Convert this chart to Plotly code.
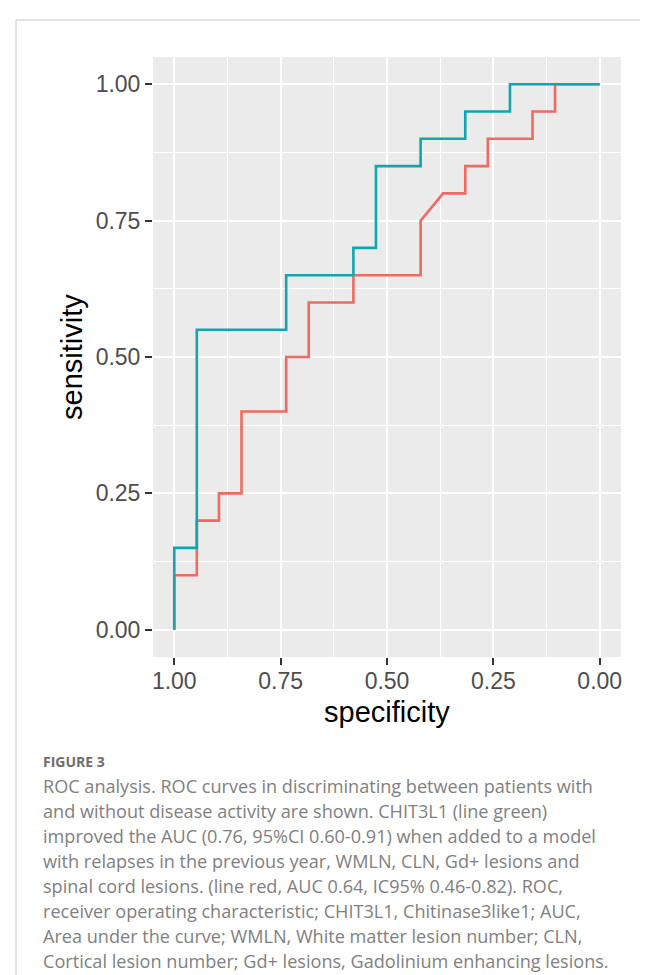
import plotly.graph_objects as go

# ROC curve corner points (specificity, sensitivity)
green_spec = [1.0, 1.0, 0.947, 0.947, 0.737, 0.737, 0.579, 0.579, 0.526, 0.526,
              0.421, 0.421, 0.316, 0.316, 0.211, 0.211, 0.0]
green_sens = [0.0, 0.15, 0.15, 0.55, 0.55, 0.65, 0.65, 0.70, 0.70, 0.85,
              0.85, 0.90, 0.90, 0.95, 0.95, 1.0, 1.0]

red_spec = [1.0, 1.0, 0.947, 0.947, 0.895, 0.895, 0.842, 0.842, 0.737, 0.737,
            0.684, 0.684, 0.579, 0.579, 0.421, 0.421, 0.368, 0.316, 0.316,
            0.263, 0.263, 0.158, 0.158, 0.105, 0.105, 0.0]
red_sens = [0.0, 0.10, 0.10, 0.20, 0.20, 0.25, 0.25, 0.40, 0.40, 0.50,
            0.50, 0.60, 0.60, 0.65, 0.65, 0.75, 0.80, 0.80, 0.85,
            0.85, 0.90, 0.90, 0.95, 0.95, 1.0, 1.0]

tick_vals = [1.0, 0.75, 0.5, 0.25, 0.0]
tick_text = ["1.00", "0.75", "0.50", "0.25", "0.00"]

caption_title = "FIGURE 3"
caption_lines = [
    "ROC analysis. ROC curves in discriminating between patients with",
    "and without disease activity are shown. CHIT3L1 (line green)",
    "improved the AUC (0.76, 95%CI 0.60-0.91) when added to a model",
    "with relapses in the previous year, WMLN, CLN, Gd+ lesions and",
    "spinal cord lesions. (line red, AUC 0.64, IC95% 0.46-0.82). ROC,",
    "receiver operating characteristic; CHIT3L1, Chitinase3like1; AUC,",
    "Area under the curve; WMLN, White matter lesion number; CLN,",
    "Cortical lesion number; Gd+ lesions, Gadolinium enhancing lesions.",
]

W, H = 648, 975
L, R, T, B = 145, 613, 49, 649
PW, PH = R - L, B - T


def px(x):
    return (x - L) / PW


def py(y):
    return (B - y) / PH


fig = go.Figure()
fig.add_trace(go.Scatter(x=red_spec, y=red_sens, mode="lines",
                         line=dict(color="#EE6A63", width=2.6), showlegend=False))
fig.add_trace(go.Scatter(x=green_spec, y=green_sens, mode="lines",
                         line=dict(color="#10A6AB", width=2.6), showlegend=False))

axis_common = dict(
    showgrid=True, gridcolor="white", gridwidth=2.4,
    zeroline=False, showline=False,
    ticks="outside", ticklen=7, tickwidth=2, tickcolor="#333333",
    tickfont=dict(family="Liberation Sans, Arial, sans-serif", size=23, color="#4D4D4D"),
    tickvals=tick_vals, ticktext=tick_text,
    minor=dict(tickvals=[0.875, 0.625, 0.375, 0.125], showgrid=True,
               gridcolor="white", gridwidth=1.3, ticks=""),
)

fig.update_xaxes(range=[1.05, -0.05], ticklabelstandoff=-4, **axis_common)
fig.update_yaxes(range=[-0.05, 1.05], **axis_common)

annotations = [
    dict(text="specificity", x=px(379), y=py(704), xref="paper", yref="paper",
         showarrow=False, xanchor="center", yanchor="middle",
         font=dict(family="Liberation Sans, Arial, sans-serif", size=29, color="black")),
    dict(text="sensitivity", x=px(64), y=py(349), xref="paper", yref="paper",
         showarrow=False, xanchor="center", yanchor="middle", textangle=-90,
         font=dict(family="Liberation Sans, Arial, sans-serif", size=29, color="black")),
    dict(text="<b>" + caption_title + "</b>", x=px(33), y=py(753), xref="paper", yref="paper",
         showarrow=False, xanchor="left", yanchor="middle",
         font=dict(family="Open Sans, sans-serif", size=14, color="#6E6E6E")),
]
for i, line in enumerate(caption_lines):
    annotations.append(dict(
        text=line, x=px(33), y=py(778 + i * 25.0), xref="paper", yref="paper",
        showarrow=False, xanchor="left", yanchor="middle",
        font=dict(family="Open Sans, sans-serif", size=18.1, color="#7F7F7F")))

shapes = [
    dict(type="line", xref="paper", yref="paper", x0=px(8), x1=px(660),
         y0=py(12), y1=py(12), line=dict(color="#C8C8C8", width=1)),
    dict(type="line", xref="paper", yref="paper", x0=px(8), x1=px(8),
         y0=py(12), y1=py(990), line=dict(color="#C8C8C8", width=1)),
]

fig.update_layout(
    width=W, height=H,
    margin=dict(l=L, r=W - R, t=T, b=H - B),
    plot_bgcolor="#EBEBEB", paper_bgcolor="white",
    annotations=annotations, shapes=shapes,
)

fig.write_html("out.html")
